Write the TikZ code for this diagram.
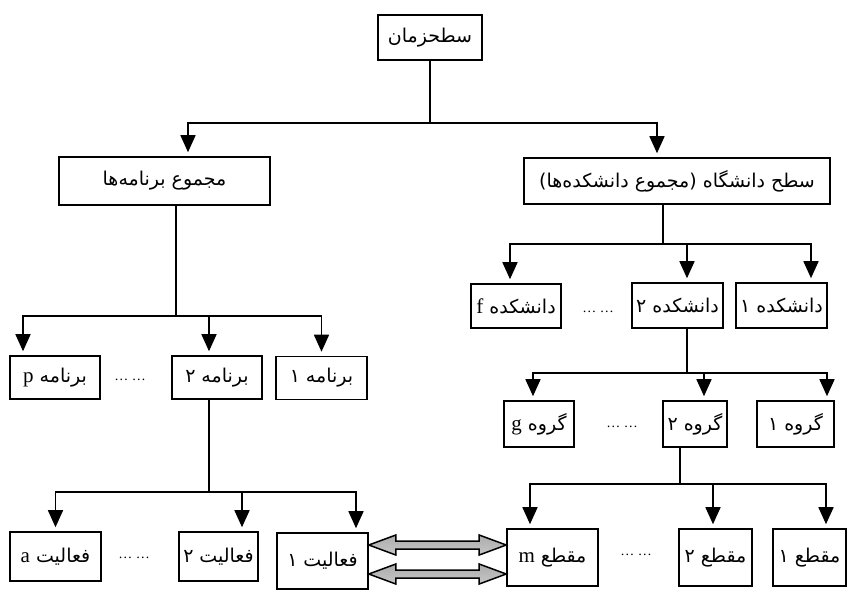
\documentclass[tikz,border=0pt]{standalone}
\usepackage{fontspec}
\setmainfont{Liberation Serif}
\newfontfamily\fa[Script=Arabic]{DejaVu Sans}
\TeXXeTstate=1
\usetikzlibrary{arrows.meta,calc}
\newcommand{\fatxt}[1]{{\fa\beginR #1\endR}}
\newcommand{\lat}[1]{{\rmfamily\fontsize{10.5}{12}\selectfont #1}}
\tikzset{
	box/.style={draw, line width=0.8pt, inner sep=0pt, font=\fontsize{9.5}{11}\selectfont},
	ln/.style={line width=0.8pt},
	arr/.style={ln, -{Triangle[width=7.5pt,length=8.5pt]}, shorten >=2pt},
	dots/.style={inner sep=0pt, font=\fontsize{7}{8}\selectfont},
	dblarr/.style={draw, line width=0.75pt, top color=gray!65, middle color=white, bottom color=gray!45},
}
\begin{document}
\begin{tikzpicture}[x=0.5pt,y=-0.5pt]
	\useasboundingbox (0,0) rectangle (863,602);
	
	\node[box, minimum width=52pt, minimum height=22.5pt] (zaman) at (430,37.5) {\fatxt{سطحزمان}};
	\node[box, minimum width=105.5pt, minimum height=24pt] (barnameha) at (164.5,181) {\fatxt{مجموع برنامه‌ها}};
	\node[box, minimum width=153pt, minimum height=23pt] (daneshgah) at (677,181) {\fatxt{سطح دانشگاه (مجموع دانشکده‌ها)}};
	\draw[ln] (zaman.south) -- ++(0,62) coordinate (j0);
	\draw[arr] (j0) -| ($(barnameha.north)+(23.5,0)$);
	\draw[arr] (j0) -| ($(daneshgah.north)+(-20,0)$);
	
	% barname-ha
	\node[box, minimum width=45.5pt, minimum height=21.5pt] (barname1) at (321.5,378) {\fatxt{برنامه ۱}};
	\node[box, minimum width=45pt, minimum height=21.5pt] (barname2) at (217,377.5) {\fatxt{برنامه ۲}};
	\node[box, minimum width=45pt, minimum height=21.5pt] (barnamep) at (55,377.5) {\fatxt{برنامه \lat{p}}};
	\node[dots] (dotsp) at (130,380) {\ldots\ \ldots};
	\draw[ln] ($(barnameha.south)+(11.5,0)$) -- ++(0,110) coordinate (j1);
	\draw[arr] (j1) -| ($(barnamep.north)+(-32,0)$);
	\draw[arr] (j1) -| ($(barname2.north)+(-8,0)$);
	\draw[arr] (j1) -| (barname1.north);
	
	\node[box, minimum width=45.5pt, minimum height=28pt] (faaliat1) at (322.5,561) {\fatxt{فعالیت ۱}};
	\node[box, minimum width=39.5pt, minimum height=24.5pt] (faaliat2) at (218.5,556.5) {\fatxt{فعالیت ۲}};
	\node[box, minimum width=45.5pt, minimum height=24.5pt] (faaliata) at (55.5,556.5) {\fatxt{فعالیت \lat{a}}};
	\node[dots] (dotsa) at (134,558) {\ldots\ \ldots};
	\draw[ln] ($(barname2.south)+(-8,0)$) -- ++(0,92) coordinate (j2);
	\draw[arr] (j2) -| (faaliata.north);
	\draw[arr] (j2) -| ($(faaliat2.north)+(23.5,0)$);
	\draw[arr] (j2) -| ($(faaliat1.north)+(33.5,0)$);
	
	% daneshkade-ha
	\node[box, minimum width=45.5pt, minimum height=22.5pt] (daneshkade1) at (781.5,305.5) {\fatxt{دانشکده ۱}};
	\node[box, minimum width=45.5pt, minimum height=22.5pt] (daneshkade2) at (677.5,305.5) {\fatxt{دانشکده ۲}};
	\node[box, minimum width=45pt, minimum height=22pt] (daneshkadef) at (516,306) {\fatxt{دانشکده \lat{f}}};
	\node[dots] (dotsf) at (598,312) {\ldots\ \ldots};
	\draw[ln] ($(daneshgah.south)+(-14,0)$) -- ++(0,39) coordinate (j3);
	\draw[arr] (j3) -| ($(daneshkadef.north)+(-6,0)$);
	\draw[arr] (j3) -| ($(daneshkade2.north)+(9.5,0)$);
	\draw[arr] (j3) -| ($(daneshkade1.north)+(29.5,0)$);
	
	\node[box, minimum width=38.5pt, minimum height=23pt] (goruh1) at (795.5,424) {\fatxt{گروه ۱}};
	\node[box, minimum width=32pt, minimum height=23pt] (goruh2) at (695,424) {\fatxt{گروه ۲}};
	\node[box, minimum width=35pt, minimum height=23pt] (goruhg) at (539,424) {\fatxt{گروه \lat{g}}};
	\node[dots] (dotsg) at (622,427) {\ldots\ \ldots};
	\draw[ln] ($(daneshkade2.south)+(9.5,0)$) -- ++(0,44) coordinate (j4);
	\draw[arr] (j4) -| ($(goruhg.north)+(-6,0)$);
	\draw[arr] (j4) -| ($(goruh2.north)+(9,0)$);
	\draw[arr] (j4) -| ($(goruh1.north)+(31.5,0)$);
	
	\node[box, minimum width=36.5pt, minimum height=28.5pt] (maqta1) at (809.5,557.5) {\fatxt{مقطع ۱}};
	\node[box, minimum width=36.5pt, minimum height=28.5pt] (maqta2) at (715.5,557.5) {\fatxt{مقطع ۲}};
	\node[box, minimum width=45.5pt, minimum height=28.5pt] (maqtam) at (552.5,557.5) {\fatxt{مقطع \lat{m}}};
	\node[dots] (dotsm) at (636,555) {\ldots\ \ldots};
	\draw[ln] ($(goruh2.south)+(-15,0)$) -- ++(0,36) coordinate (j5);
	\draw[arr] (j5) -| ($(maqtam.north)+(-22.5,0)$);
	\draw[arr] (j5) -| ($(maqta2.north)+(-2.5,0)$);
	\draw[arr] (j5) -| ($(maqta1.north)+(16.5,0)$);
	
	% faaliat 1 <-> maqta m
	\coordinate (l1) at ($(faaliat1.east)+(0,-16)$);
	\coordinate (r1) at ($(maqtam.west)+(0,-12.5)$);
	\coordinate (l2) at ($(faaliat1.east)+(0,13)$);
	\coordinate (r2) at ($(maqtam.west)+(0,16.5)$);
	\foreach \a/\b in {l1/r1,l2/r2}
		\path[dblarr] (\a) -- ++(27,-10) -- ++(0,6) -- ($(\b)+(-27,-4)$) -- ++(0,-6) -- (\b) -- ++(-27,10) -- ++(0,-6) -- ($(\a)+(27,4)$) -- ++(0,6) -- cycle;
\end{tikzpicture}
\end{document}
